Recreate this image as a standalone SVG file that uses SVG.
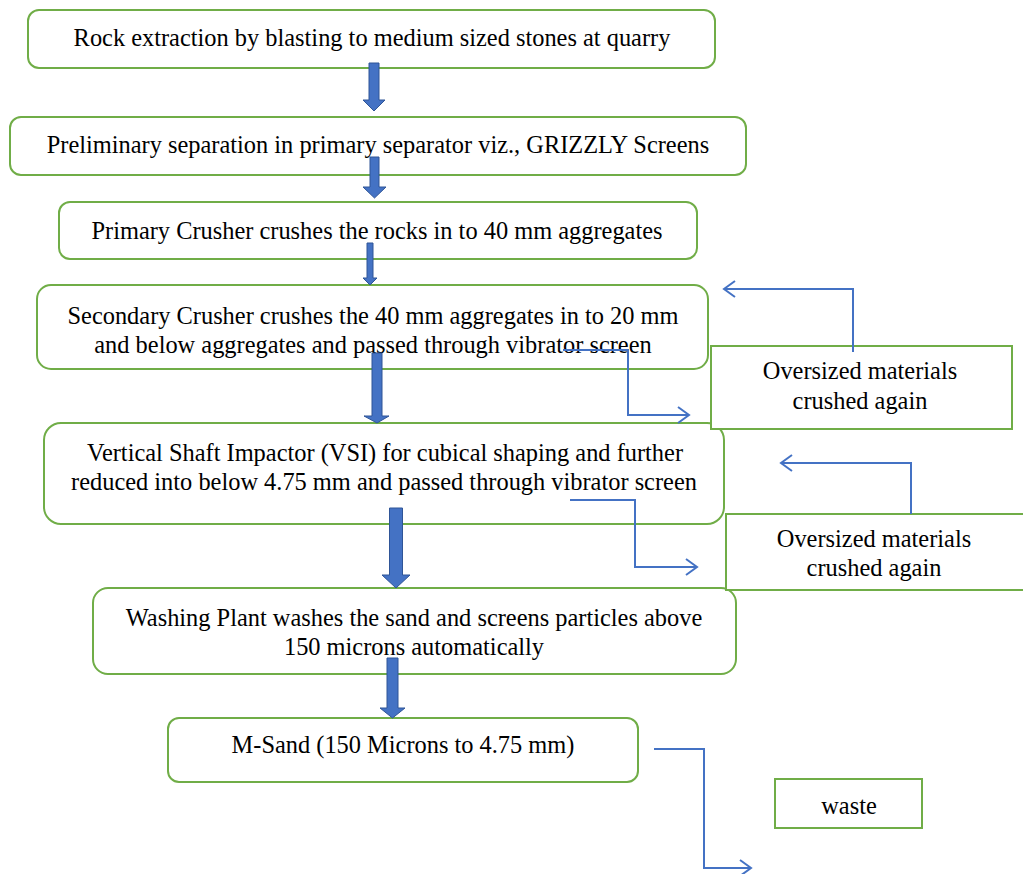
<svg xmlns="http://www.w3.org/2000/svg" width="1023" height="874" viewBox="0 0 1023 874">
<style>
.box{fill:#ffffff;stroke:#70AD47;stroke-width:2}
.t{font-family:"Liberation Serif","Times New Roman","DejaVu Serif",serif;font-size:24.4px;fill:#000000;text-anchor:middle}
.blk{fill:#4472C4;stroke:#2F5597;stroke-width:1}
.con{fill:none;stroke:#4472C4;stroke-width:2;marker-end:url(#open)}
</style>
<defs>
<marker id="open" markerUnits="userSpaceOnUse" viewBox="-14 -10 16 20" refX="0" refY="0" markerWidth="16" markerHeight="20" orient="auto" overflow="visible">
<path d="M-11,-8 L0,0 L-11,8" fill="none" stroke="#4472C4" stroke-width="2"/>
</marker>
</defs>
<rect width="1023" height="874" fill="#ffffff"/>
<g id="n1"><rect class="box" x="28" y="10" width="687" height="58" rx="11"/><text class="t" x="372" y="46">Rock extraction by blasting to medium sized stones at quarry</text></g>
<g id="n2"><rect class="box" x="10" y="117" width="736" height="58" rx="11"/><text class="t" x="378" y="153">Preliminary separation in primary separator viz., GRIZZLY Screens</text></g>
<g id="n3"><rect class="box" x="59" y="202" width="638" height="57" rx="11"/><text class="t" x="377" y="239">Primary Crusher crushes the rocks in to 40 mm aggregates</text></g>
<g id="n4"><rect class="box" x="37" y="285" width="671" height="84" rx="14"/><text class="t" x="373" y="324">Secondary Crusher crushes the 40 mm aggregates in to 20 mm</text><text class="t" x="373" y="353">and below aggregates and passed through vibrator screen</text></g>
<g id="n5"><rect class="box" x="44" y="423" width="680" height="101" rx="17"/><text class="t" x="385" y="461">Vertical Shaft Impactor (VSI) for cubical shaping and further</text><text class="t" x="384" y="490">reduced into below 4.75 mm and passed through vibrator screen</text></g>
<g id="n6"><rect class="box" x="93" y="588" width="643" height="86" rx="15"/><text class="t" x="414" y="626">Washing Plant washes the sand and screens particles above</text><text class="t" x="414" y="655">150 microns automatically</text></g>
<g id="n7"><rect class="box" x="168" y="718" width="470" height="64" rx="11"/><text class="t" x="403" y="753">M-Sand (150 Microns to 4.75 mm)</text></g>
<g id="n8"><rect class="box" x="711" y="346" width="301" height="83"/><text class="t" x="860" y="379">Oversized materials</text><text class="t" x="860" y="409">crushed again</text></g>
<g id="n9"><rect class="box" x="726" y="514" width="300" height="76"/><text class="t" x="874" y="547">Oversized materials</text><text class="t" x="874" y="576">crushed again</text></g>
<g id="n10"><rect class="box" x="775" y="779" width="147" height="49"/><text class="t" x="849" y="814">waste</text></g>
<g id="connectors">
<polygon class="blk" points="369,63 379,63 379,100 385,100 374,111 363,100 369,100"/>
<polygon class="blk" points="370,157 379,157 379,187 386,187 374.5,198 363,187 370,187"/>
<polygon class="blk" points="367,243 373,243 373,278 377,278 370,285 363,278 367,278"/>
<polygon class="blk" points="372,353 382,353 382,416 389,416 377,423 364,416 372,416"/>
<polygon class="blk" points="389.5,508 402.5,508 402.5,575 410,575 396,588 382,575 389.5,575"/>
<polygon class="blk" points="387,658 398,658 398,708 405,708 392.5,718 380,708 387,708"/>
<polyline class="con" points="853,352 853,289 724,289"/>
<polyline class="con" points="563,350 628,350 628,415 689,415"/>
<polyline class="con" points="911,514 911,463 781,463"/>
<polyline class="con" points="570,500 635,500 635,567 697,567"/>
<polyline class="con" points="654,749 704,749 704,868 751,868"/>
</g>
</svg>
